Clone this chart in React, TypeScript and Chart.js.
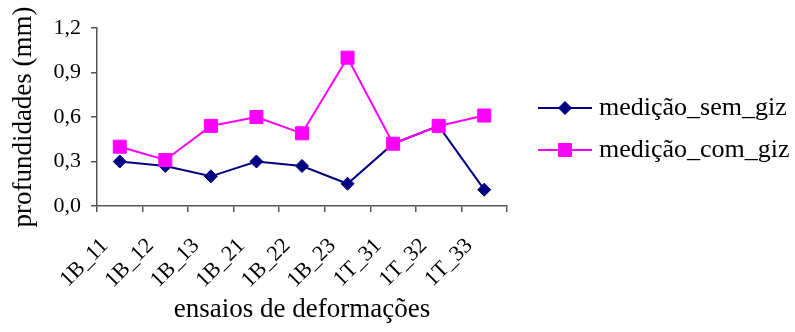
import React, { useEffect, useRef } from "react";
import { Chart, registerables } from "chart.js";

Chart.register(...registerables);

// ensaios (categorias do eixo x)
const categorias = ["1B_11", "1B_12", "1B_13", "1B_21", "1B_22", "1B_23", "1T_31", "1T_32", "1T_33"];
// profundidades medidas (mm)
const medicaoSemGiz = [0.3, 0.27, 0.2, 0.3, 0.27, 0.15, 0.42, 0.54, 0.11];
const medicaoComGiz = [0.4, 0.31, 0.54, 0.6, 0.49, 1.0, 0.42, 0.54, 0.61];
// marcas do eixo y
const yMin = 0;
const yMax = 1.2;
const yPasso = 0.3;

const SERIF = "'Liberation Serif', 'Times New Roman', serif";
const AZUL = "#000080";
const MAGENTA = "#FF00FF";
const EIXO = "#555555";

type LegendaItem = { texto: string; cor: string; estilo: string; raio: number };

const legendaItens: LegendaItem[] = [
  { texto: "medição_sem_giz", cor: AZUL, estilo: "rectRot", raio: 6.5 },
  { texto: "medição_com_giz", cor: MAGENTA, estilo: "rect", raio: 9.2 },
];

function desenhaPonto(ctx: CanvasRenderingContext2D, estilo: string, r: number, x: number, y: number) {
  ctx.beginPath();
  if (estilo === "rectRot") {
    ctx.moveTo(x - r, y);
    ctx.lineTo(x, y - r);
    ctx.lineTo(x + r, y);
    ctx.lineTo(x, y + r);
    ctx.closePath();
  } else {
    const s = Math.SQRT1_2 * r;
    ctx.rect(x - s, y - s, 2 * s, 2 * s);
  }
  ctx.fill();
  ctx.stroke();
}

// legenda desenhada à direita com linha + marcador
const legendaPlugin = {
  id: "legendaLinha",
  afterDraw(chart: Chart) {
    const ctx = chart.ctx;
    const x0 = 538;
    const x1 = 592;
    const linhas = [108, 150];
    ctx.save();
    legendaItens.forEach((item, i) => {
      const y = linhas[i];
      ctx.strokeStyle = item.cor;
      ctx.lineWidth = 2;
      ctx.beginPath();
      ctx.moveTo(x0, y);
      ctx.lineTo(x1, y);
      ctx.stroke();
      ctx.fillStyle = item.cor;
      ctx.lineWidth = 1;
      desenhaPonto(ctx, item.estilo, item.raio, (x0 + x1) / 2, y);
      ctx.fillStyle = "#000";
      ctx.font = `26px ${SERIF}`;
      ctx.textAlign = "left";
      ctx.textBaseline = "middle";
      ctx.fillText(item.texto, 599, y);
    });
    ctx.restore();
  },
};

export default function App() {
  const canvasRef = useRef<HTMLCanvasElement | null>(null);

  useEffect(() => {
    document.body.style.margin = "0";
    const canvas = canvasRef.current;
    if (!canvas) return;

    const chart = new Chart(canvas, {
      type: "line",
      data: {
        labels: categorias,
        datasets: [
          {
            label: "medição_sem_giz",
            data: medicaoSemGiz,
            borderColor: AZUL,
            backgroundColor: AZUL,
            borderWidth: 2,
            pointStyle: "rectRot",
            pointRadius: 6.5,
            pointBorderWidth: 1,
            pointBorderColor: AZUL,
            pointBackgroundColor: AZUL,
            tension: 0,
            order: 1,
          },
          {
            label: "medição_com_giz",
            data: medicaoComGiz,
            borderColor: MAGENTA,
            backgroundColor: MAGENTA,
            borderWidth: 2,
            pointStyle: "rect",
            pointRadius: 9.2,
            pointBorderWidth: 1,
            pointBorderColor: MAGENTA,
            pointBackgroundColor: MAGENTA,
            tension: 0,
            order: 0,
          },
        ],
      },
      options: {
        responsive: false,
        animation: false,
        layout: { padding: { left: 0, top: 28, right: 288, bottom: 0 } },
        plugins: {
          legend: { display: false },
          tooltip: { enabled: false },
          title: { display: false },
        },
        scales: {
          x: {
            type: "category",
            offset: true,
            grid: {
              offset: true,
              drawOnChartArea: false,
              drawTicks: true,
              tickLength: 6,
              color: EIXO,
              lineWidth: 1.5,
            },
            border: { display: true, color: EIXO, width: 1.5 },
            ticks: {
              autoSkip: false,
              minRotation: 45,
              maxRotation: 45,
              padding: 21,
              labelOffset: -15,
              color: "#000",
              font: { family: SERIF, size: 22 },
            },
            title: {
              display: true,
              text: "ensaios de deformações",
              color: "#000",
              font: { family: SERIF, size: 27 },
              padding: { top: 0, bottom: 6 },
            },
            afterFit: (s: any) => {
              s.height = 126;
            },
          },
          y: {
            min: yMin,
            max: yMax,
            grid: {
              drawOnChartArea: false,
              drawTicks: true,
              tickLength: 6,
              color: EIXO,
              lineWidth: 1.5,
            },
            border: { display: true, color: EIXO, width: 1.5 },
            ticks: {
              stepSize: yPasso,
              padding: 10,
              color: "#000",
              font: { family: SERIF, size: 22 },
              callback: (v: any) => Number(v).toFixed(1).replace(".", ","),
            },
            title: {
              display: true,
              text: "profundidades (mm)",
              color: "#000",
              font: { family: SERIF, size: 27 },
              padding: { top: 8, bottom: 0 },
            },
            afterFit: (s: any) => {
              s.width = 97;
            },
          },
        },
      },
      plugins: [legendaPlugin],
    });

    return () => chart.destroy();
  }, []);

  return (
    <div style={{ width: 795, height: 332 }}>
      <canvas ref={canvasRef} width={795} height={332} style={{ display: "block" }} />
    </div>
  );
}
